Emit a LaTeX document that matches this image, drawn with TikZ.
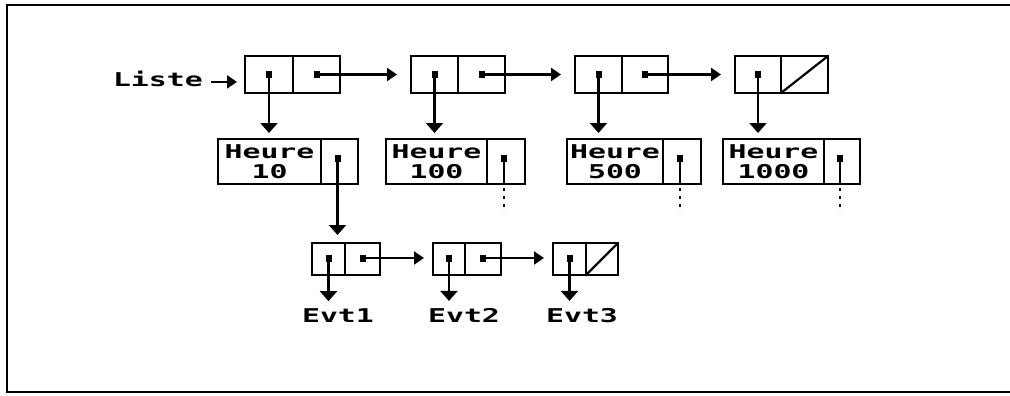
\documentclass[tikz,border=0pt]{standalone}
\usepackage{fontspec}
\newfontfamily\pixfont[FakeStretch=1.57]{DejaVu Sans Mono}
\usetikzlibrary{arrows.meta}
\begin{document}
\begin{tikzpicture}[x=1pt,y=-1pt,
  box/.style={draw, line width=2.4pt, inner sep=0pt, outer sep=0pt, anchor=north west},
  ptr/.style={fill, inner sep=0pt, outer sep=0pt, minimum width=6pt, minimum height=7pt},
  txt/.style={inner sep=0pt, outer sep=0pt, font=\pixfont\bfseries\fontsize{19pt}{20pt}\selectfont},
  harr/.style={line width=2.2pt, -{Triangle[width=13pt,length=10pt]}},
  varr/.style={line width=2.2pt, -{Triangle[width=17pt,length=10pt]}},
  wire/.style={line width=2.2pt},
  dotline/.style={line width=2.2pt, dash pattern=on 3pt off 5pt},
  frame/.style={line width=2.4pt}]
\useasboundingbox (0,0) rectangle (1010,396);
\draw[frame] (1012,5) -- (7,5) -- (7,392) -- (1012,392);

% top row
\node[box, minimum width=48pt, minimum height=37pt] (p1a) at (245,56) {};
\node[box, minimum width=47pt, minimum height=37pt] (p1b) at (293,56) {};
\node[box, minimum width=47pt, minimum height=37pt] (p2a) at (411,56) {};
\node[box, minimum width=47pt, minimum height=37pt] (p2b) at (458,56) {};
\node[box, minimum width=47pt, minimum height=37pt] (p3a) at (575,56) {};
\node[box, minimum width=46pt, minimum height=37pt] (p3b) at (622,56) {};
\node[box, minimum width=46pt, minimum height=37pt] (p4a) at (735,56) {};
\node[box, minimum width=47pt, minimum height=37pt] (p4b) at (781,56) {};
\draw[wire] (p4b.south west) -- (p4b.north east);

\node[ptr] (d1a) at (p1a.center) {};
\node[ptr] (d1b) at (p1b.center) {};
\node[ptr] (d2a) at (p2a.center) {};
\node[ptr] (d2b) at (p2b.center) {};
\node[ptr] (d3a) at (p3a.center) {};
\node[ptr] (d3b) at (p3b.center) {};
\node[ptr] (d4a) at (p4a.center) {};

\node[txt, anchor=base west] (liste) at (113,87) {Liste};
\draw[harr, shorten >=8pt] ([xshift=8pt,yshift=-2.5pt]liste.east) -- ([yshift=-2.5pt]liste.east -| p1a.west);

\draw[harr, shorten >=14pt] (d1b.center) -- (p2a.west);
\draw[harr, shorten >=14pt] (d2b.center) -- (p3a.west);
\draw[harr, shorten >=14pt] (d3b.center) -- (p4a.west);

% Heure row
\node[box, txt, minimum width=103pt, minimum height=45pt, align=center] (h1) at (218,139) {Heure\\10};
\node[box, minimum width=37pt, minimum height=45pt] (h1p) at (321,139) {};
\node[box, txt, minimum width=101pt, minimum height=45pt, align=center] (h2) at (386,139) {Heure\\100};
\node[box, minimum width=38pt, minimum height=45pt] (h2p) at (487,139) {};
\node[box, txt, minimum width=96pt, minimum height=45pt, align=center] (h3) at (567,139) {Heure\\500};
\node[box, minimum width=38pt, minimum height=45pt] (h3p) at (663,139) {};
\node[box, txt, minimum width=101pt, minimum height=45pt, align=center] (h4) at (723,139) {Heure\\1000};
\node[box, minimum width=36pt, minimum height=45pt] (h4p) at (824,139) {};

\draw[varr, shorten >=6pt] (d1a.center) -- (d1a.center |- h1.north);
\draw[varr, shorten >=6pt] (d2a.center) -- (d2a.center |- h2.north);
\draw[varr, shorten >=6pt] (d3a.center) -- (d3a.center |- h3.north);
\draw[varr, shorten >=6pt] (d4a.center) -- (d4a.center |- h4.north);

\node[ptr] (e1d) at ([xshift=-2pt,yshift=3pt]h1p.center) {};
\node[ptr] (e2d) at ([xshift=-2pt,yshift=3pt]h2p.center) {};
\node[ptr] (e3d) at ([xshift=-2pt,yshift=3pt]h3p.center) {};
\node[ptr] (e4d) at ([xshift=-2pt,yshift=3pt]h4p.center) {};

\draw[wire] (e2d.center) -- (e2d.center |- h2p.south);
\draw[dotline] (e2d.center |- h2p.south) ++(0,4) -- ++(0,24);
\draw[wire] (e3d.center) -- (e3d.center |- h3p.south);
\draw[dotline] (e3d.center |- h3p.south) ++(0,4) -- ++(0,24);
\draw[wire] (e4d.center) -- (e4d.center |- h4p.south);
\draw[dotline] (e4d.center |- h4p.south) ++(0,4) -- ++(0,24);

% bottom row
\node[box, minimum width=33pt, minimum height=32pt] (b1a) at (312,243) {};
\node[box, minimum width=35pt, minimum height=32pt] (b1b) at (345,243) {};
\node[box, minimum width=32pt, minimum height=32pt] (b2a) at (433,243) {};
\node[box, minimum width=36pt, minimum height=32pt] (b2b) at (465,243) {};
\node[box, minimum width=33pt, minimum height=32pt] (b3a) at (553,243) {};
\node[box, minimum width=32pt, minimum height=32pt] (b3b) at (586,243) {};
\draw[wire] (b3b.south west) -- (b3b.north east);

\draw[varr, shorten >=8pt] (e1d.center) -- (e1d.center |- b1a.north);

\node[ptr] (f1a) at ([yshift=1pt]b1a.center) {};
\node[ptr] (f1b) at ([yshift=1pt]b1b.center) {};
\node[ptr] (f2a) at ([yshift=1pt]b2a.center) {};
\node[ptr] (f2b) at ([yshift=1pt]b2b.center) {};
\node[ptr] (f3a) at ([yshift=1pt]b3a.center) {};

\draw[harr, shorten >=9pt] (f1b.center) -- (f1b.center -| b2a.west);
\draw[harr, shorten >=9pt] (f2b.center) -- (f2b.center -| b3a.west);

\node[txt, anchor=base] (ev1) at (338,322) {Evt1};
\node[txt, anchor=base] (ev2) at (464,322) {Evt2};
\node[txt, anchor=base] (ev3) at (582,322) {Evt3};

\draw[varr, shorten >=7pt] (f1a.center) -- (f1a.center |- ev1.north);
\draw[varr, shorten >=7pt] (f2a.center) -- (f2a.center |- ev2.north);
\draw[varr, shorten >=7pt] (f3a.center) -- (f3a.center |- ev3.north);
\end{tikzpicture}
\end{document}
